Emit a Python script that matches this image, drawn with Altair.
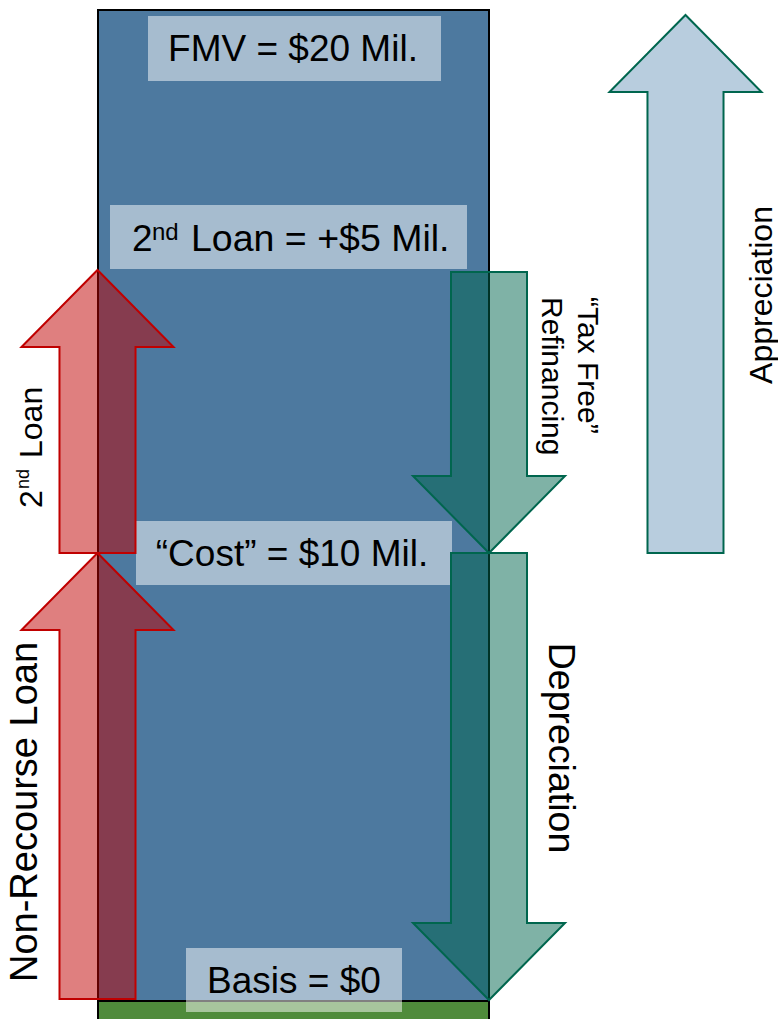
import altair as alt
import pandas as pd

W, H = 778, 1019
FONT = "Liberation Sans"

# ---------------- data ----------------
# building (fair-market-value block) and ground strip
frame_x = [98, 489]
frame_y = [10, 1001]
ground_y = [1001, 1024]

# translucent label boxes
box_names = ["FMV", "2nd Loan", "Cost", "Basis"]
box_x1 = [148, 110, 136, 186]
box_x2 = [441, 467, 452, 402]
box_y1 = [16, 205, 521, 948]
box_y2 = [81, 269, 585, 1012]

# block arrows: centre line, tail level, tip level
arrow_names = ["Non-Recourse Loan", "2nd Loan", "Tax Free Refinancing", "Depreciation", "Appreciation"]
arrow_cx = [97.5, 97.5, 489, 489, 685.5]
arrow_tail = [999, 553, 272, 553, 553]
arrow_tip = [553, 270, 553, 1000, 15]
arrow_kind = ["loan", "loan", "tax", "tax", "appr"]

SHAFT_W, HEAD_W, HEAD_LEN = 76, 152, 77
KIND_FILL = {"loan": "#C00000", "tax": "#00664E", "appr": "#B8CDDE"}
KIND_STROKE = {"loan": "#C00000", "tax": "#00664E", "appr": "#00664E"}
KIND_OPAC = {"loan": 0.5, "tax": 0.5, "appr": 1.0}

# text labels (centre aligned)
tc_text = ["FMV = $20 Mil.", "\u201cCost\u201d = $10 Mil.", "Basis = $0",
           "Non-Recourse Loan", "Appreciation", "Depreciation"]
tc_x = [293, 292, 294, 37, 772, 549]
tc_y = [61, 566, 993, 812, 295, 748]
tc_size = [37, 37, 37, 38, 32, 37.5]
tc_angle = [0, 0, 0, 270, 270, 90]

# text labels (left aligned, incl. superscripts)
tl_text = ["2", "nd", "Loan = +$5 Mil.", "2", "nd", "Loan",
           "\u201cTax Free\u201d", "Refinancing"]
tl_x = [132, 152, 191, 42, 29, 42, 578, 542]
tl_y = [251, 240, 251, 508, 489, 458, 297, 297]
tl_size = [37, 24, 37.5, 32, 18, 32, 30, 30]
tl_angle = [0, 0, 0, 270, 270, 270, 90, 90]

# ---------------- build tables ----------------
EPS = 0.02


def arrow_rows(name, cx, tail, tip, kind):
    d = 1 if tip > tail else -1
    base = tip - d * HEAD_LEN
    hs, hh = SHAFT_W / 2, HEAD_W / 2
    mid = base + d * HEAD_LEN * (hh - hs) / hh
    xs = [cx - hh, cx - hs - EPS, cx - hs, cx, cx + hs, cx + hs + EPS, cx + hh]
    if d < 0:
        top = [base, mid, mid, tip, mid, mid, base]
        bot = [base, base, tail, tail, tail, base, base]
    else:
        top = [base, base, tail, tail, tail, base, base]
        bot = [base, mid, mid, tip, mid, mid, base]
    return [dict(name=name, x=x, y=t, y2=b, fill=KIND_FILL[kind],
                 stroke=KIND_STROKE[kind], op=KIND_OPAC[kind])
            for x, t, b in zip(xs, top, bot)]


rows = []
for n, c, ta, ti, k in zip(arrow_names, arrow_cx, arrow_tail, arrow_tip, arrow_kind):
    rows += arrow_rows(n, c, ta, ti, k)
arrows_df = pd.DataFrame(rows)

frame_df = pd.DataFrame({"x": [frame_x[0]], "x2": [frame_x[1]], "y": [frame_y[0]], "y2": [frame_y[1]]})
ground_df = pd.DataFrame({"x": [frame_x[0]], "x2": [frame_x[1]], "y": [ground_y[0]], "y2": [ground_y[1]]})
boxes_df = pd.DataFrame({"name": box_names, "x": box_x1, "x2": box_x2, "y": box_y1, "y2": box_y2})
tc_df = pd.DataFrame({"text": tc_text, "x": tc_x, "y": tc_y, "size": tc_size, "angle": tc_angle})
tl_df = pd.DataFrame({"text": tl_text, "x": tl_x, "y": tl_y, "size": tl_size, "angle": tl_angle})

xs = alt.Scale(domain=[0, W], nice=False, zero=False)
ys = alt.Scale(domain=[0, H], nice=False, zero=False, reverse=True)
X = lambda f="x": alt.X(f"{f}:Q", scale=xs, axis=None)
Y = lambda f="y": alt.Y(f"{f}:Q", scale=ys, axis=None)

frame = alt.Chart(frame_df).mark_rect(fill="#4D799F", stroke="black", strokeWidth=2).encode(
    x=X(), x2="x2:Q", y=Y(), y2="y2:Q")
ground = alt.Chart(ground_df).mark_rect(fill="#4F8B3B", stroke="black", strokeWidth=2).encode(
    x=X(), x2="x2:Q", y=Y(), y2="y2:Q")
boxes = alt.Chart(boxes_df).mark_rect(fill="white", fillOpacity=0.5, strokeWidth=0).encode(
    x=X(), x2="x2:Q", y=Y(), y2="y2:Q")

arrows = alt.Chart(arrows_df).mark_area(orient="vertical", strokeWidth=2, strokeJoin="miter",
                                        interpolate="linear").encode(
    x=X(), y=alt.Y("y:Q", scale=ys, axis=None, stack=None), y2="y2:Q",
    detail="name:N",
    fill=alt.Fill("fill:N", scale=None),
    stroke=alt.Stroke("stroke:N", scale=None),
    fillOpacity=alt.FillOpacity("op:Q", scale=None),
)

text_c = alt.Chart(tc_df).mark_text(align="center", baseline="alphabetic", font=FONT, color="black").encode(
    x=X(), y=Y(), text="text:N",
    size=alt.Size("size:Q", scale=None), angle=alt.Angle("angle:Q", scale=None))
text_l = alt.Chart(tl_df).mark_text(align="left", baseline="alphabetic", font=FONT, color="black").encode(
    x=X(), y=Y(), text="text:N",
    size=alt.Size("size:Q", scale=None), angle=alt.Angle("angle:Q", scale=None))

chart = alt.layer(frame, ground, boxes, arrows, text_c, text_l).properties(
    width=W, height=H, padding=0, autosize=alt.AutoSizeParams(type="none")
).configure_view(stroke=None)

chart.save("out.html", embed_options={"renderer": "svg", "actions": False})
